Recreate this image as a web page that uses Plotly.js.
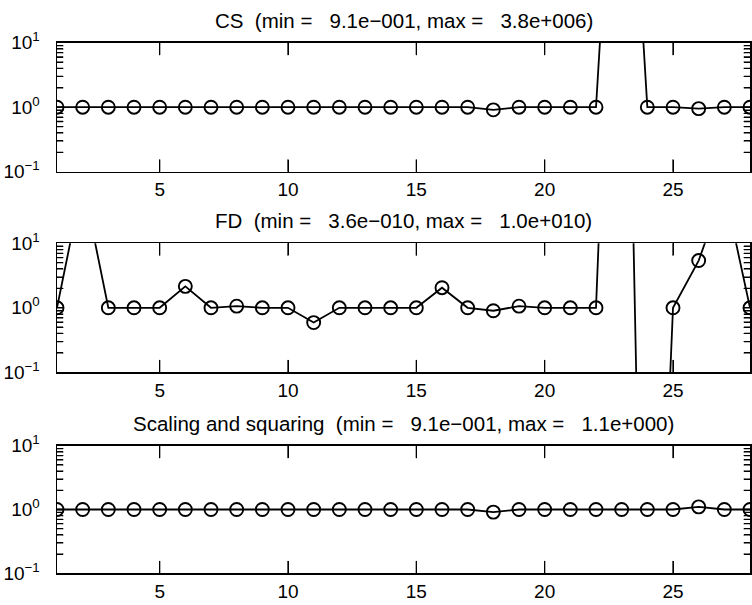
<!DOCTYPE html>
<html>
<head>
<meta charset="utf-8">
<script src="https://cdn.plot.ly/plotly-3.0.1.min.js"></script>
<style>html,body{margin:0;padding:0;background:#fff;}#chart{width:752px;height:605px;}</style>
</head>
<body>
<div id="chart"></div>
<script>
// x positions (test case index)
var xIndex = [1,2,3,4,5,6,7,8,9,10,11,12,13,14,15,16,17,18,19,20,21,22,23,24,25,26,27,28];

// relative errors
var csValues = [1,1,1,1,1,1,1,1,1,1,1,1,1,1,1,1,1,0.91,1,1,1,1,3.8e6,1,1,0.95,1,1];
var fdValues = [1,90,1,1,1,2.15,1,1.06,1,1,0.59,1,1,1,1,2.05,1,0.9,1.06,1,1,1,1.0e10,3.6e-10,1,5.4,70,1];
var ssValues = [1,1,1,1,1,1,1,1,1,1,1,1,1,1,1,1,1,0.91,1,1,1,1,1,1,1,1.1,1,1];

var panelTitles = [
  "CS\u00a0\u00a0(min =\u00a0\u00a0\u00a09.1e\u2212001, max =\u00a0\u00a0\u00a03.8e+006)",
  "FD\u00a0\u00a0(min =\u00a0\u00a0\u00a03.6e\u2212010, max =\u00a0\u00a0\u00a01.0e+010)",
  "Scaling and squaring\u00a0\u00a0(min =\u00a0\u00a0\u00a09.1e\u2212001, max =\u00a0\u00a0\u00a01.1e+000)"
];

var xTickVals = [5,10,15,20,25];
var yTickVals = [0.1,1,10];
var yTickText = ["10<sup>\u22121</sup>","10<sup>0</sup>","10<sup>1</sup>"];
var yMinorVals = [0.2,0.3,0.4,0.5,0.6,0.7,0.8,0.9,2,3,4,5,6,7,8,9];

var FONT = "Liberation Sans, Arial, Helvetica, sans-serif";
var seriesList = [csValues, fdValues, ssValues];
var xRange = [1, 28];
var yLogRange = [-1, 1];
var W = 752, H = 605;
var xDom = [57/W, 750/W];
var yDoms = [
  [1-171.7/H, 1-42.7/H],
  [1-372.3/H, 1-243.3/H],
  [1-573.3/H, 1-445.7/H]
];
var X_TICK_PX = 12, Y_TICK_PX = 6;

var traces = [];
var layout = {
  width: W, height: H,
  margin: {l:0, r:0, t:0, b:0},
  paper_bgcolor: "#fff", plot_bgcolor: "#fff",
  showlegend: false,
  font: {family: FONT, size: 19, color: "#000"},
  annotations: []
};

function tickSeg(xr, yr, xs, ys) {
  traces.push({
    x: xs, y: ys, xaxis: xr, yaxis: yr,
    type: "scatter", mode: "lines+markers", hoverinfo: "skip",
    line: {color: "#000", width: 1.3},
    marker: {size: 1, color: "#000"},
    cliponaxis: true
  });
}

for (var i = 0; i < 3; i++) {
  var sfx = i === 0 ? "" : String(i+1);
  var xr = "x" + sfx, yr = "y" + sfx;
  var plotWpx = (xDom[1]-xDom[0]) * W;
  var plotHpx = (yDoms[i][1]-yDoms[i][0]) * H;
  var dec = X_TICK_PX / plotHpx * (yLogRange[1]-yLogRange[0]);
  var ux = Y_TICK_PX / plotWpx * (xRange[1]-xRange[0]);
  var lo = Math.pow(10, yLogRange[0]), hi = Math.pow(10, yLogRange[1]);

  // inside tick marks, one short segment per tick, built from the tick arrays
  xTickVals.forEach(function (v) {
    tickSeg(xr, yr, [v, v], [lo, lo * Math.pow(10, dec)]);
    tickSeg(xr, yr, [v, v], [hi, hi / Math.pow(10, dec)]);
  });
  [yTickVals[1]].concat(yMinorVals).forEach(function (v) {
    tickSeg(xr, yr, [xRange[0], xRange[0] + ux], [v, v]);
    tickSeg(xr, yr, [xRange[1], xRange[1] - ux], [v, v]);
  });

  traces.push({
    x: xIndex, y: seriesList[i],
    xaxis: xr, yaxis: yr,
    type: "scatter", mode: "lines+markers",
    line: {color: "#000", width: 1.8},
    marker: {symbol: "circle-open", size: 13, color: "#000", line: {width: 1.9, color: "#000"}},
    cliponaxis: true
  });

  layout["xaxis" + sfx] = {
    domain: xDom, anchor: yr,
    range: xRange, type: "linear",
    tickmode: "array", tickvals: xTickVals,
    ticks: "inside", ticklen: X_TICK_PX, tickwidth: 1, tickcolor: "#000",
    showline: true, linecolor: "#000", linewidth: 1.5, mirror: "ticks",
    showgrid: false, zeroline: false,
    tickfont: {family: FONT, size: 19, color: "#000"}
  };
  layout["yaxis" + sfx] = {
    domain: yDoms[i], anchor: xr,
    type: "log", range: yLogRange,
    tickmode: "array", tickvals: yTickVals, ticktext: yTickText,
    ticks: "inside", ticklen: Y_TICK_PX, tickwidth: 1, tickcolor: "#000",
    minor: {tickmode: "array", tickvals: yMinorVals, ticks: "inside", ticklen: Y_TICK_PX, tickwidth: 1, tickcolor: "#000", showgrid: false},
    showline: true, linecolor: "#000", linewidth: 1.5, mirror: "ticks",
    showgrid: false, zeroline: false,
    ticklabelstandoff: 12,
    tickfont: {family: FONT, size: 19, color: "#000"}
  };
  layout.annotations.push({
    text: panelTitles[i],
    xref: "paper", yref: "paper",
    x: (xDom[0] + xDom[1]) / 2, y: yDoms[i][1],
    xanchor: "center", yanchor: "bottom", yshift: 9,
    showarrow: false,
    font: {family: FONT, size: 20.5, color: "#000"}
  });
}

Plotly.newPlot("chart", traces, layout, {displayModeBar: false, staticPlot: true});
</script>
</body>
</html>
